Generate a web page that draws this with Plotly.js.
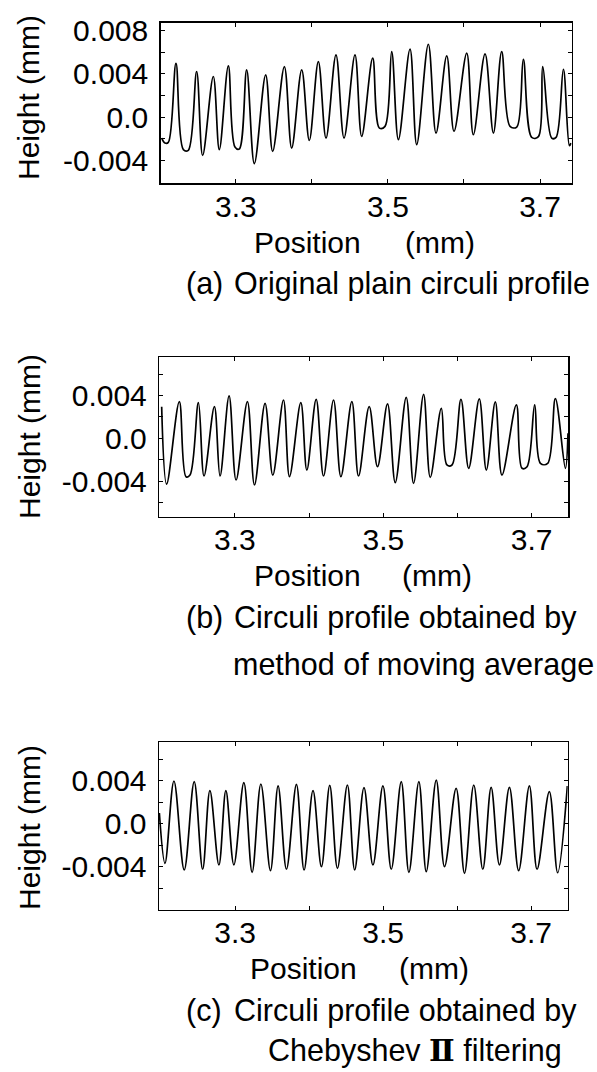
<!DOCTYPE html>
<html>
<head>
<meta charset="utf-8">
<script src="https://cdn.plot.ly/plotly-3.0.1.min.js"></script>
<style>html,body{margin:0;padding:0;background:#fff;}#chart{width:597px;height:1072px;}</style>
</head>
<body>
<div id="chart"></div>
<script>
// ---- Data ----
// (a) Original plain circuli profile
const xA = [3.2023,3.2066,3.2110,3.2211,3.2308,3.2373,3.2483,3.2562,3.2702,3.2781,3.2900,3.2987,3.3044,3.3141,3.3242,3.3391,3.3483,3.3637,3.3733,3.3865,3.3965,3.4084,3.4185,3.4316,3.4422,3.4566,3.4654,3.4799,3.4887,3.4961,3.5049,3.5137,3.5290,3.5378,3.5531,3.5632,3.5773,3.5869,3.6036,3.6123,3.6277,3.6387,3.6496,3.6606,3.6694,3.6781,3.6891,3.6979,3.7036,3.7154,3.7211,3.7308,3.7387,3.7408];
const yA = [-0.00194,-0.00240,-0.00234,0.00497,-0.00301,-0.00307,0.00421,-0.00354,0.00375,-0.00301,0.00473,-0.00277,-0.00295,0.00436,-0.00430,0.00390,-0.00317,0.00467,-0.00286,0.00436,-0.00215,0.00513,-0.00194,0.00574,-0.00194,0.00574,-0.00178,0.00544,-0.00102,-0.00086,0.00605,-0.00209,0.00627,-0.00255,0.00673,-0.00148,0.00565,-0.00132,0.00590,-0.00163,0.00584,-0.00148,0.00605,-0.00086,-0.00092,0.00534,-0.00188,-0.00180,0.00467,-0.00194,-0.00188,0.00442,-0.00264,-0.00240];

// (b) Moving average
const xB = [3.2012,3.2079,3.2250,3.2340,3.2394,3.2507,3.2583,3.2723,3.2799,3.2921,3.3015,3.3168,3.3263,3.3406,3.3510,3.3654,3.3735,3.3888,3.3969,3.4095,3.4194,3.4329,3.4428,3.4576,3.4666,3.4810,3.4922,3.5057,3.5161,3.5309,3.5408,3.5543,3.5633,3.5782,3.5858,3.5926,3.6047,3.6151,3.6294,3.6389,3.6510,3.6600,3.6794,3.6870,3.6938,3.7041,3.7118,3.7216,3.7320,3.7455,3.7490];
const yB = [0.00296,-0.00427,0.00343,-0.00358,-0.00343,0.00333,-0.00352,0.00296,-0.00352,0.00396,-0.00389,0.00343,-0.00436,0.00327,-0.00343,0.00358,-0.00358,0.00333,-0.00296,0.00364,-0.00352,0.00358,-0.00358,0.00343,-0.00352,0.00296,-0.00265,0.00321,-0.00414,0.00383,-0.00421,0.00411,-0.00364,0.00280,-0.00249,-0.00249,0.00364,-0.00280,0.00368,-0.00296,0.00340,-0.00343,0.00312,-0.00280,-0.00265,0.00312,-0.00234,-0.00234,0.00371,-0.00280,0.00047];

// (c) Chebyshev II filtering
const xC = [3.1975,3.2051,3.2172,3.2311,3.2446,3.2560,3.2658,3.2780,3.2874,3.2982,3.3117,3.3229,3.3347,3.3477,3.3580,3.3693,3.3828,3.3931,3.4052,3.4166,3.4278,3.4382,3.4517,3.4615,3.4741,3.4862,3.4997,3.5110,3.5245,3.5348,3.5483,3.5583,3.5718,3.5830,3.5987,3.6100,3.6225,3.6347,3.6460,3.6572,3.6707,3.6832,3.6977,3.7081,3.7247,3.7359,3.7490];
const yC = [0.00100,-0.00368,0.00398,-0.00430,0.00392,-0.00423,0.00308,-0.00383,0.00308,-0.00383,0.00383,-0.00451,0.00370,-0.00436,0.00352,-0.00423,0.00367,-0.00430,0.00308,-0.00399,0.00358,-0.00414,0.00361,-0.00430,0.00336,-0.00383,0.00352,-0.00423,0.00392,-0.00451,0.00392,-0.00445,0.00407,-0.00399,0.00330,-0.00461,0.00361,-0.00423,0.00339,-0.00383,0.00339,-0.00436,0.00352,-0.00423,0.00299,-0.00455,0.00352];

const xTickVals = [3.3,3.4,3.5,3.6,3.7];
const xTickText = ['3.3','','3.5','','3.7'];
const yTickValsA = [-0.006,-0.004,-0.002,0,0.002,0.004,0.006,0.008];
const yTickTextA = ['','-0.004','','0.0','','0.004','','0.008'];
const yTickValsBC = [-0.006,-0.004,-0.002,0,0.002,0.004,0.006];
const yTickTextBC = ['','-0.004','','0.0','','0.004',''];

// ---- Layout helpers ----
const W = 597, H = 1072;
const px = v => v / W;
const py = v => 1 - v / H;
const FONT = 'Liberation Sans, Arial, Helvetica, sans-serif';
const FS = 30;
const CFS = 30.5;

const lineStyle = {color:'#000', width:1.7, shape:'spline', smoothing:1.0};
const traces = [
  {x:xA, y:yA, xaxis:'x', yaxis:'y', mode:'lines', line:lineStyle, hoverinfo:'skip'},
  {x:xB, y:yB, xaxis:'x2', yaxis:'y2', mode:'lines', line:lineStyle, hoverinfo:'skip'},
  {x:xC, y:yC, xaxis:'x3', yaxis:'y3', mode:'lines', line:lineStyle, hoverinfo:'skip'}
];

function xax(dom, rng, anchor){
  return {domain:dom, range:rng, anchor:anchor, tickmode:'array', tickvals:xTickVals, ticktext:xTickText,
    ticks:'inside', ticklen:4, tickcolor:'#000', showline:true, mirror:'ticks', linecolor:'#000', linewidth:1.5,
    showgrid:false, zeroline:false, ticklabelstandoff:-4, tickfont:{family:FONT, size:FS, color:'#000'}};
}
function yax(dom, rng, anchor, tv, tt){
  return {domain:dom, range:rng, anchor:anchor, tickmode:'array', tickvals:tv, ticktext:tt,
    ticks:'inside', ticklen:4, tickcolor:'#000', showline:true, mirror:'ticks', linecolor:'#000', linewidth:1.5,
    showgrid:false, zeroline:false, ticklabelstandoff:5, tickfont:{family:FONT, size:FS, color:'#000'}};
}

function ann(text, x, y, xanchor, extra){
  return Object.assign({text:text, x:px(x), y:py(y), xref:'paper', yref:'paper', xanchor:xanchor||'left', yanchor:'middle',
    showarrow:false, font:{family:FONT, size:FS, color:'#000'}}, extra||{});
}
const cap = {font:{family:FONT, size:CFS, color:'#000'}};

const annotations = [
  ann('Height (mm)', 29, 98, 'center', {textangle:-90}),
  ann('Position', 307, 242, 'center'),
  ann('(mm)', 440, 242, 'center'),
  ann('(a)', 184, 283, 'left', cap),
  ann('Original plain circuli profile', 232, 283, 'left', cap),

  ann('Height (mm)', 29, 437, 'center', {textangle:-90}),
  ann('Position', 307, 575, 'center'),
  ann('(mm)', 437, 575, 'center'),
  ann('(b)', 184, 617, 'left', cap),
  ann('Circuli profile obtained by', 232, 617, 'left', cap),
  ann('method of moving average', 596, 664, 'right', cap),

  ann('Height (mm)', 29, 828, 'center', {textangle:-90}),
  ann('Position', 303, 968, 'center'),
  ann('(mm)', 434, 968, 'center'),
  ann('(c)', 184, 1010, 'left', cap),
  ann('Circuli profile obtained by', 232, 1010, 'left', cap),
  ann('Chebyshev <span style="font-family:DejaVu Serif;font-weight:bold">\u2161</span> filtering', 266, 1050, 'left', cap)
];

const layout = {
  width:W, height:H, margin:{l:0,r:0,t:0,b:0}, paper_bgcolor:'#fff', plot_bgcolor:'#fff', showlegend:false,
  xaxis: xax([px(160.7), px(571.7)], [3.201, 3.7417], 'y'),
  yaxis: yax([py(183), py(22.7)], [-0.00609, 0.00872], 'x', yTickValsA, yTickTextA),
  xaxis2: xax([px(159.3), px(568)], [3.198, 3.749], 'y2'),
  yaxis2: yax([py(516.7), py(357.3)], [-0.00732, 0.00757], 'x2', yTickValsBC, yTickTextBC),
  xaxis3: xax([px(159), px(567.7)], [3.197, 3.7495], 'y3'),
  yaxis3: yax([py(909.8), py(742.3)], [-0.0080, 0.00758], 'x3', yTickValsBC, yTickTextBC),
  annotations: annotations
};

Plotly.newPlot('chart', traces, layout, {staticPlot:true, displayModeBar:false});
</script>
</body>
</html>
